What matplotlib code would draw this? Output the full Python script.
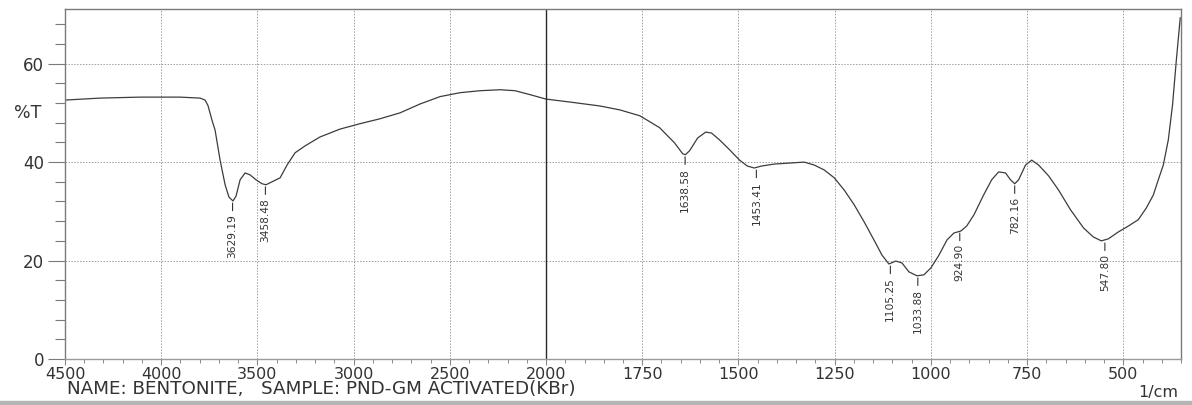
import matplotlib
matplotlib.use('Agg')
import matplotlib.pyplot as plt
from matplotlib.ticker import FixedLocator
import numpy as np

plt.rcParams['font.family'] = ['DejaVu Sans']

# Spectrum (wavenumber 1/cm, %T)
wavenumber = [4500, 4318, 4110, 3902, 3798, 3772, 3757, 3736, 3720, 3694,
              3668, 3648, 3627, 3611, 3590, 3564, 3538, 3507, 3476, 3455,
              3424, 3382, 3346, 3304, 3252, 3175, 3071, 2967, 2863, 2759,
              2655, 2551, 2447, 2343, 2239, 2161, 2083, 2000,
              1938, 1860, 1808, 1756, 1705, 1666, 1645, 1638, 1627, 1606,
              1585, 1570, 1549, 1523, 1497, 1477, 1459, 1440, 1407, 1368,
              1329, 1303, 1277, 1251, 1225, 1199, 1173, 1148, 1127, 1109,
              1091, 1075, 1057, 1036, 1018, 1000, 979, 958, 940, 922,
              907, 888, 863, 842, 824, 806, 793, 782, 772, 754,
              738, 720, 694, 668, 637, 603, 578, 557, 539, 513,
              487, 461, 440, 422, 409, 396, 383, 372, 362, 352]
transmittance = [52.6, 53.0, 53.2, 53.2, 53.0, 52.6, 51.5, 48.5, 46.5, 40.4,
                 35.4, 32.9, 32.1, 33.1, 36.4, 37.8, 37.4, 36.4, 35.6, 35.4,
                 36.0, 36.8, 39.4, 41.9, 43.3, 45.1, 46.7, 47.8, 48.8, 50.0,
                 51.8, 53.3, 54.1, 54.5, 54.7, 54.5, 53.7, 52.8,
                 52.2, 51.4, 50.6, 49.4, 47.0, 43.9, 41.7, 41.5, 42.3, 44.9,
                 46.1, 45.9, 44.5, 42.5, 40.4, 39.2, 38.8, 39.2, 39.6, 39.8,
                 40.0, 39.4, 38.4, 36.8, 34.3, 31.3, 27.8, 24.2, 21.1, 19.3,
                 19.9, 19.5, 17.7, 16.9, 17.1, 18.5, 21.1, 24.2, 25.6, 26.0,
                 27.0, 29.3, 33.3, 36.4, 38.0, 37.8, 36.4, 35.6, 36.4, 39.4,
                 40.4, 39.4, 37.2, 34.3, 30.3, 26.6, 24.8, 24.0, 24.4, 25.8,
                 27.0, 28.3, 30.7, 33.3, 36.4, 39.4, 44.5, 51.6, 60.8, 69.3]

# Peak labels
peak_wn = [3629.19, 3458.48, 1638.58, 1453.41, 1105.25, 1033.88, 924.90, 782.16, 547.80]
peak_t = [32.1, 35.4, 41.5, 38.8, 19.3, 16.9, 26.0, 35.6, 24.0]

x_ticks = [4500, 4000, 3500, 3000, 2500, 2000, 1750, 1500, 1250, 1000, 750, 500]
y_ticks = [0, 20, 40, 60]


# x axis is compressed 2:1 above 2000 1/cm
def fwd(w):
    w = np.asarray(w, dtype=float)
    return np.where(w >= 2000, 2000 + (w - 2000) / 2.0, w)


def inv(u):
    u = np.asarray(u, dtype=float)
    return np.where(u >= 2000, 2000 + (u - 2000) * 2.0, u)


fig = plt.figure(figsize=(11.92, 4.05), dpi=100)
ax = fig.add_axes([65 / 1192, 1 - 359 / 405, 1116 / 1192, 350 / 405])
ax.set_xscale('function', functions=(fwd, inv))

ax.plot(wavenumber, transmittance, color='#3c3c3c', lw=0.9)
ax.set_xlim(4500, 350)
ax.set_ylim(0, 71.1)

# grid + break line
ax.set_xticks(x_ticks)
ax.set_yticks(y_ticks)
ax.xaxis.set_minor_locator(FixedLocator(list(range(4500, 2000, -100)) + list(range(2000, 349, -50))))
ax.yaxis.set_minor_locator(FixedLocator(list(range(0, 72, 4))))
ax.grid(True, which='major', color='#a0a0a0', ls=(0, (1.5, 1.5)), lw=0.7)
ax.axvline(2000, color='#2a2a2a', lw=1.0)

for s in ax.spines.values():
    s.set_color('#7a7a7a')
    s.set_linewidth(1.0)
ax.spines['bottom'].set_color('#9a9a9a')

ax.tick_params(axis='y', which='major', direction='out', length=12, width=0.8,
               color='#7a7a7a', labelsize=12, pad=3, labelcolor='#333333')
ax.tick_params(axis='y', which='minor', direction='out', length=7, width=0.8, color='#7a7a7a')
ax.tick_params(axis='x', which='major', direction='out', length=4, width=0.8,
               color='#8a8a8a', labelsize=11.5, pad=2, labelcolor='#333333')
ax.tick_params(axis='x', which='minor', direction='out', length=3, width=0.7, color='#8a8a8a')

ax.annotate('%T', xy=(0, 50), xycoords=('axes fraction', 'data'), xytext=(-27, 0),
            textcoords='offset points', ha='center', va='center', fontsize=12.5, color='#333333')

for w, t in zip(peak_wn, peak_t):
    ax.annotate(f'{w:.2f}', xy=(w, t), xytext=(0, -9.5), textcoords='offset points',
                rotation=90, ha='center', va='top', fontsize=7.7, color='#333333',
                arrowprops=dict(arrowstyle='-', color='#333333', lw=0.8, shrinkA=0.5, shrinkB=1.5))

fig.text(67 / 1192, 1 - 394 / 405, 'NAME: BENTONITE,   SAMPLE: PND-GM ACTIVATED(KBr)',
         ha='left', va='baseline', fontsize=13.2, color='#333333')
fig.text(1158 / 1192, 1 - 397 / 405, '1/cm', ha='center', va='baseline', fontsize=11.5, color='#333333')

# grey strip at the very bottom of the screenshot
fig.patches.append(plt.Rectangle((0, 0), 1, 4 / 405, transform=fig.transFigure,
                                 color='#b4b4b4', zorder=0))

fig.savefig('out.png', dpi=100)
